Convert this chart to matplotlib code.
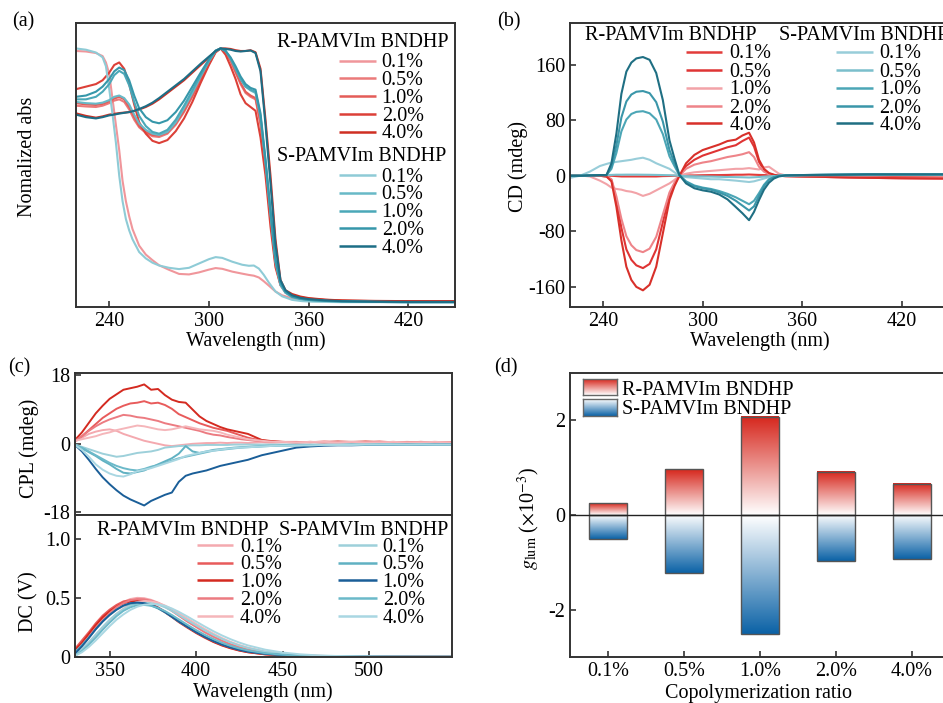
import numpy as np
import matplotlib
matplotlib.use('Agg')
import matplotlib.pyplot as plt
from matplotlib.lines import Line2D
from matplotlib.colors import LinearSegmentedColormap

FS = 14.5
plt.rcParams['font.family'] = ['Liberation Serif', 'DejaVu Serif']
plt.rcParams['mathtext.fontset'] = 'stix'
plt.rcParams['axes.unicode_minus'] = False
plt.rcParams['font.size'] = FS

# ---------------- data ----------------
ratios = ['0.1%', '0.5%', '1.0%', '2.0%', '4.0%']
R_name = 'R-PAMVIm BNDHP'
S_name = 'S-PAMVIm BNDHP'

# (a) normalized absorption
a_wl01 = [220, 226, 232, 236, 238, 240, 242, 244, 246, 248, 250, 252, 254, 258, 262, 266, 270, 276, 282, 288,
          294, 300, 304, 308, 314, 320, 324, 327, 330, 333, 336, 340, 344, 350, 356, 362, 370, 380, 395, 410, 430, 448]
a_R01 = [0.99, 0.988, 0.982, 0.97, 0.945, 0.90, 0.80, 0.70, 0.60, 0.48, 0.40, 0.34, 0.29, 0.225, 0.19, 0.168, 0.148,
         0.13, 0.114, 0.112, 0.12, 0.131, 0.137, 0.134, 0.123, 0.115, 0.11, 0.107, 0.10, 0.085, 0.068, 0.045, 0.03,
         0.018, 0.012, 0.009, 0.007, 0.006, 0.005, 0.004, 0.004, 0.004]
a_S01 = [1.0, 0.995, 0.984, 0.965, 0.93, 0.84, 0.74, 0.63, 0.50, 0.40, 0.33, 0.285, 0.25, 0.20, 0.175, 0.158, 0.147,
         0.138, 0.133, 0.138, 0.155, 0.172, 0.18, 0.177, 0.162, 0.15, 0.146, 0.147, 0.135, 0.11, 0.08, 0.045, 0.026,
         0.012, 0.007, 0.005, 0.004, 0.003, 0.003, 0.003, 0.003, 0.003]
a_wl = [220, 226, 232, 236, 240, 243, 246, 249, 252, 255, 258, 262, 266, 270, 275, 280, 285, 290, 295, 300, 304,
        307, 310, 313, 316, 319, 322, 325, 328, 331, 334, 337, 340, 343, 346, 350, 355, 360, 370, 380, 400, 420, 448]
a_R05 = [0.775, 0.772, 0.77, 0.775, 0.785, 0.795, 0.80, 0.79, 0.76, 0.72, 0.69, 0.668, 0.655, 0.652, 0.665, 0.70,
         0.75, 0.81, 0.875, 0.94, 0.985, 1.0, 0.985, 0.95, 0.905, 0.86, 0.825, 0.81, 0.80, 0.70, 0.53, 0.33, 0.15,
         0.07, 0.04, 0.025, 0.018, 0.014, 0.01, 0.008, 0.006, 0.005, 0.005]
a_R10 = [0.785, 0.78, 0.778, 0.782, 0.792, 0.803, 0.81, 0.80, 0.77, 0.73, 0.695, 0.672, 0.66, 0.658, 0.67, 0.705,
         0.755, 0.815, 0.88, 0.945, 0.988, 1.0, 0.988, 0.955, 0.91, 0.865, 0.83, 0.815, 0.805, 0.71, 0.54, 0.34, 0.16,
         0.075, 0.042, 0.027, 0.019, 0.015, 0.011, 0.008, 0.006, 0.005, 0.005]
a_R20 = [0.84, 0.85, 0.86, 0.875, 0.905, 0.935, 0.945, 0.92, 0.86, 0.78, 0.71, 0.665, 0.637, 0.628, 0.64, 0.675,
         0.725, 0.79, 0.865, 0.935, 0.985, 1.0, 0.975, 0.93, 0.88, 0.82, 0.785, 0.77, 0.755, 0.65, 0.50, 0.30, 0.14,
         0.07, 0.045, 0.03, 0.022, 0.017, 0.012, 0.009, 0.007, 0.006, 0.006]
a_R40 = [0.745, 0.735, 0.728, 0.733, 0.74, 0.743, 0.746, 0.748, 0.75, 0.754, 0.76, 0.77, 0.783, 0.80, 0.825, 0.85,
         0.875, 0.905, 0.935, 0.965, 0.99, 1.0, 1.0, 0.998, 0.993, 0.99, 0.99, 0.993, 0.985, 0.92, 0.72, 0.50, 0.25,
         0.09, 0.05, 0.035, 0.025, 0.019, 0.013, 0.01, 0.008, 0.007, 0.007]
a_S05 = [0.79, 0.785, 0.783, 0.787, 0.797, 0.81, 0.815, 0.805, 0.78, 0.74, 0.705, 0.68, 0.665, 0.66, 0.672, 0.71,
         0.765, 0.825, 0.89, 0.95, 0.99, 1.0, 0.99, 0.96, 0.92, 0.88, 0.85, 0.835, 0.825, 0.73, 0.55, 0.35, 0.16,
         0.07, 0.04, 0.022, 0.015, 0.011, 0.008, 0.006, 0.004, 0.003, 0.003]
a_S10 = [0.80, 0.80, 0.81, 0.83, 0.86, 0.895, 0.912, 0.90, 0.855, 0.79, 0.735, 0.695, 0.672, 0.665, 0.68, 0.72,
         0.775, 0.835, 0.895, 0.952, 0.99, 1.0, 0.99, 0.96, 0.92, 0.88, 0.85, 0.838, 0.83, 0.735, 0.555, 0.355, 0.165,
         0.075, 0.042, 0.024, 0.016, 0.012, 0.008, 0.006, 0.004, 0.003, 0.003]
a_S20 = [0.81, 0.815, 0.83, 0.85, 0.88, 0.91, 0.925, 0.915, 0.875, 0.815, 0.765, 0.73, 0.712, 0.706, 0.718, 0.75,
         0.795, 0.85, 0.905, 0.958, 0.992, 1.0, 0.99, 0.965, 0.93, 0.89, 0.86, 0.845, 0.838, 0.745, 0.565, 0.365, 0.17,
         0.08, 0.044, 0.025, 0.017, 0.012, 0.008, 0.006, 0.004, 0.003, 0.003]
a_S40 = [0.74, 0.73, 0.725, 0.73, 0.737, 0.74, 0.744, 0.747, 0.75, 0.755, 0.762, 0.773, 0.787, 0.805, 0.83, 0.855,
         0.88, 0.91, 0.94, 0.968, 0.99, 1.0, 0.998, 0.995, 0.99, 0.988, 0.99, 0.992, 0.982, 0.91, 0.70, 0.47, 0.23,
         0.09, 0.05, 0.03, 0.02, 0.015, 0.01, 0.007, 0.005, 0.004, 0.004]

# (b) CD spectra
b_wl = [220, 226, 232, 238, 242, 245, 248, 251, 254, 257, 260, 264, 268, 272, 276, 280, 283, 286, 290, 295, 300, 305,
        310, 315, 320, 324, 328, 331, 334, 337, 340, 343, 346, 350, 360, 380, 400, 420, 448]
b_R01 = [0.5, 0.5, 0.3, 0.3, 0.2, 0, -0.5, -1, -1, -1, -1, -1, -1, -1, -0.5, -0.3, 0, 0, 0.5, 0.5, 0.8, 1, 1, 1.2,
         1.5, 1.5, 1.8, 1.5, 1.2, 1, 0.8, 0.5, 0.3, 0, -0.5, -1, -1.5, -2, -2.5]
b_R05 = [0, 0, 0, 0, -1, -6, -36, -75, -106, -121, -129, -133, -127, -106, -67, -28, -12, 0, 14, 23, 29, 33, 37, 41,
         44, 50, 55, 42, 20, 8, 3, 1, 0, -0.5, -1, -2, -3, -3.5, -4]
b_R10 = [0, 0.5, -1, -7, -12, -17, -19, -20, -22, -23, -25, -29, -26, -21, -16, -11, -6, 0, 3, 5, 6, 7, 8, 9, 10,
         10, 11, 10, 9, 12, 13, 8, 3, 0.5, -0.5, -1.5, -2.5, -3, -3.5]
b_R20 = [0, 0, 0, 0, -1, -5, -30, -62, -87, -100, -107, -110, -105, -88, -56, -24, -10, 0, 10, 16, 19, 21, 24, 27,
         29, 31, 34, 27, 13, 6, 2, 1, 0, -0.5, -1, -2, -3, -3.5, -4]
b_R40 = [0, 0, 0, 0, -1, -8, -45, -93, -131, -150, -160, -165, -157, -131, -83, -35, -15, 0, 18, 30, 37, 41, 45, 50,
         52, 58, 62, 48, 23, 10, 4, 1.5, 0, -0.5, -1, -2, -3, -3.5, -4]
b_S01 = [-3, 0, 6, 14, 17, 19, 20, 21, 22, 23, 24.5, 26, 23, 18, 14, 10, 5, 0, -2, -3, -4, -5, -5, -6, -7, -8, -9,
         -8, -6, -4, -2, -1, 0, 0.5, 1, 1.5, 2, 2, 2]
b_S05 = [0.3, 0.3, 0.5, 0.8, 1, 1.2, 1.5, 1.5, 1.6, 1.6, 1.6, 1.5, 1.4, 1.2, 1, 0.8, 0.5, 0, -0.5, -0.8, -1, -1.2,
         -1.5, -1.8, -2, -2.2, -2.5, -2.2, -1.8, -1.2, -0.8, -0.5, 0, 0.3, 0.6, 0.8, 1, 1.2, 1.5]
b_S10 = [0, 0, 0.5, 1, 1, 10, 33, 64, 81, 89, 92, 93, 90, 81, 60, 28, 14, 1, -8, -14, -17, -19, -22, -26, -31, -36,
         -41, -36, -25, -13, -5, -2, 0, 0.5, 1, 1.5, 2, 2, 2]
b_S20 = [0, 0, 0.5, 1, 1, 13, 44, 84, 107, 117, 121, 122, 119, 106, 78, 37, 18, 1, -9, -15, -18, -20, -24, -29, -36,
         -43, -50, -44, -29, -15, -6, -2, 0, 0.5, 1, 1.5, 2, 2, 2]
b_S40 = [0, 0, 0.5, 1, 1, 18, 61, 118, 150, 163, 169, 171, 167, 148, 109, 51, 25, 1, -11, -18, -21, -23, -27, -34,
         -45, -54, -64, -52, -35, -20, -10, -4, -1, 0.5, 1, 1.5, 2, 2, 2]

# (c) CPL spectra
c_wl = [330, 334, 338, 342, 346, 350, 354, 358, 362, 366, 370, 374, 378, 382, 386, 390, 394, 398, 402, 406, 410,
        414, 418, 422, 426, 430, 434, 438, 442, 446, 450, 458, 466, 474, 482, 490, 498, 506, 514, 522, 530, 538, 548]
c_R01 = [0.6, 1.6, 2.6, 3.2, 3.6, 3.8, 3.4, 2.6, 2.0, 1.4, 0.8, 0.4, 0.0, -0.4, -0.6, -0.4, -0.2, 0.0, 0.1, 0.2, 0.2,
         0.3, 0.2, 0.3, 0.3, 0.2, 0.3, 0.4, 0.3, 0.3, 0.4, 0.3, 0.4, 0.3, 0.3, 0.4, 0.3, 0.3, 0.4, 0.3, 0.3, 0.3, 0.3]
c_R05 = [0.8, 2.0, 3.6, 5.2, 6.8, 8.0, 9.2, 10.0, 10.6, 10.8, 11.2, 10.6, 10.8, 10.2, 9.2, 7.8, 7.0, 6.2, 5.4, 4.8,
         4.2, 3.8, 3.4, 2.8, 2.2, 1.6, 1.2, 0.9, 0.7, 0.6, 0.5, 0.5, 0.4, 0.6, 0.5, 0.4, 0.5, 0.6, 0.4, 0.5, 0.4, 0.5,
         0.4]
c_R10 = [1.0, 3.0, 5.5, 8.0, 10.0, 11.8, 13.0, 14.2, 14.6, 15.0, 15.6, 14.2, 14.4, 12.8, 11.6, 11.0, 10.8, 9.0, 7.2,
         6.0, 5.2, 4.4, 3.8, 3.4, 3.0, 2.6, 1.8, 1.0, 0.8, 0.6, 0.5, 0.4, 0.5, 0.4, 0.6, 0.5, 0.6, 0.4, 0.5, 0.4, 0.5,
         0.4, 0.4]
c_R20 = [0.8, 2.0, 3.4, 4.6, 5.6, 6.4, 7.0, 7.6, 7.4, 7.0, 6.8, 6.4, 6.0, 5.4, 5.0, 4.6, 4.2, 3.8, 3.4, 2.8, 2.4,
         2.2, 1.8, 1.5, 1.2, 1.0, 0.8, 0.7, 0.6, 0.5, 0.5, 0.4, 0.5, 0.4, 0.4, 0.5, 0.4, 0.5, 0.4, 0.4, 0.5, 0.4, 0.4]
c_R40 = [0.8, 1.2, 1.6, 2.0, 2.6, 3.0, 3.6, 4.0, 4.4, 4.8, 4.6, 4.2, 3.8, 3.6, 3.8, 4.2, 4.6, 4.2, 3.8, 3.6, 3.4,
         3.0, 2.4, 2.0, 1.6, 1.2, 1.0, 0.8, 0.6, 0.5, 0.5, 0.4, 0.5, 0.5, 0.4, 0.5, 0.4, 0.4, 0.5, 0.4, 0.4, 0.5, 0.4]
c_S01 = [-0.2, -0.8, -1.4, -2.0, -2.6, -3.0, -3.4, -3.2, -2.8, -2.4, -2.2, -2.0, -1.6, -1.0, -0.8, -0.6, -0.5, -0.4,
         -0.4, -0.3, -0.3, -0.3, -0.3, -0.2, -0.2, -0.2, -0.2, -0.2, -0.2, -0.2, -0.2, -0.2, -0.2, -0.2, -0.2, -0.1,
         -0.2, -0.1, -0.1, -0.2, -0.1, -0.1, -0.1]
c_S05 = [-0.4, -1.2, -2.2, -3.2, -4.4, -5.4, -6.6, -7.6, -7.8, -7.4, -7.0, -6.2, -5.4, -4.6, -3.8, -2.6, -0.6, -2.0,
         -2.4, -2.0, -1.6, -1.4, -1.2, -1.0, -0.9, -0.8, -0.7, -0.6, -0.5, -0.5, -0.4, -0.4, -0.3, -0.3, -0.3, -0.2,
         -0.3, -0.2, -0.2, -0.2, -0.2, -0.2, -0.2]
c_S10 = [-0.3, -2.0, -4.2, -6.6, -8.8, -10.6, -12.2, -13.6, -14.6, -15.4, -16.2, -15.0, -14.2, -13.4, -12.8, -10.0,
         -8.4, -7.8, -7.4, -7.0, -6.4, -5.8, -5.4, -5.0, -4.6, -4.2, -3.6, -3.0, -2.6, -2.2, -1.8, -1.0, -0.7, -0.5,
         -0.4, -0.4, -0.3, -0.3, -0.3, -0.2, -0.3, -0.2, -0.2]
c_S20 = [-0.3, -1.0, -2.0, -3.0, -4.0, -5.0, -5.8, -6.4, -6.8, -7.0, -6.6, -6.0, -5.6, -5.0, -4.4, -3.8, -3.4, -3.0,
         -2.6, -2.2, -1.8, -1.6, -1.4, -1.2, -1.0, -0.9, -0.8, -0.7, -0.6, -0.5, -0.5, -0.4, -0.4, -0.3, -0.3, -0.3,
         -0.2, -0.2, -0.2, -0.2, -0.2, -0.2, -0.2]
c_S40 = [-0.3, -1.6, -3.4, -5.4, -6.8, -7.8, -8.4, -8.6, -8.0, -7.2, -6.8, -6.4, -5.8, -5.2, -4.6, -4.0, -3.2, -2.8,
         -2.4, -2.0, -1.8, -1.5, -1.3, -1.1, -1.0, -0.9, -0.8, -0.7, -0.6, -0.5, -0.5, -0.4, -0.4, -0.3, -0.3, -0.3,
         -0.2, -0.2, -0.2, -0.2, -0.2, -0.2, -0.2]

# (c) DC spectra
dc_wl = [330, 334, 338, 342, 346, 350, 354, 358, 362, 366, 370, 374, 378, 382, 386, 390, 395, 400, 405, 410, 415,
         420, 425, 430, 440, 450, 460, 470, 480, 495, 510, 530, 548]
dc_R01 = [0.05, 0.11, 0.18, 0.255, 0.32, 0.38, 0.43, 0.465, 0.49, 0.50, 0.497, 0.483, 0.46, 0.43, 0.39, 0.35, 0.30,
          0.255, 0.21, 0.17, 0.135, 0.105, 0.08, 0.062, 0.036, 0.021, 0.013, 0.009, 0.006, 0.004, 0.003, 0.002, 0.002]
dc_R05 = [0.07, 0.14, 0.21, 0.285, 0.35, 0.40, 0.44, 0.47, 0.48, 0.48, 0.47, 0.45, 0.42, 0.385, 0.345, 0.30, 0.255,
          0.21, 0.17, 0.13, 0.10, 0.076, 0.056, 0.041, 0.023, 0.013, 0.008, 0.005, 0.004, 0.003, 0.002, 0.002, 0.002]
dc_R10 = [0.06, 0.12, 0.195, 0.27, 0.335, 0.385, 0.425, 0.455, 0.468, 0.47, 0.462, 0.443, 0.415, 0.378, 0.338, 0.295,
          0.248, 0.203, 0.163, 0.127, 0.097, 0.073, 0.054, 0.04, 0.022, 0.013, 0.008, 0.005, 0.004, 0.003, 0.002,
          0.002, 0.002]
dc_R20 = [0.04, 0.10, 0.17, 0.245, 0.31, 0.37, 0.42, 0.455, 0.48, 0.49, 0.488, 0.476, 0.455, 0.425, 0.39, 0.35, 0.30,
          0.255, 0.21, 0.172, 0.138, 0.108, 0.084, 0.065, 0.038, 0.022, 0.014, 0.009, 0.006, 0.004, 0.003, 0.002,
          0.002]
dc_R40 = [0.02, 0.06, 0.12, 0.185, 0.25, 0.31, 0.365, 0.41, 0.445, 0.465, 0.472, 0.47, 0.458, 0.435, 0.405, 0.37,
          0.325, 0.28, 0.237, 0.197, 0.16, 0.128, 0.101, 0.079, 0.047, 0.028, 0.017, 0.011, 0.007, 0.005, 0.003,
          0.002, 0.002]
dc_S01 = [0.02, 0.065, 0.125, 0.19, 0.255, 0.315, 0.365, 0.405, 0.435, 0.452, 0.458, 0.455, 0.442, 0.42, 0.39,
          0.355, 0.31, 0.268, 0.226, 0.188, 0.153, 0.123, 0.097, 0.076, 0.045, 0.027, 0.016, 0.01, 0.007, 0.004,
          0.003, 0.002, 0.002]
dc_S05 = [0.04, 0.10, 0.165, 0.235, 0.30, 0.355, 0.40, 0.432, 0.45, 0.455, 0.45, 0.435, 0.41, 0.378, 0.34, 0.30,
          0.255, 0.212, 0.172, 0.137, 0.107, 0.082, 0.062, 0.047, 0.027, 0.016, 0.01, 0.006, 0.004, 0.003, 0.002,
          0.002, 0.002]
dc_S10 = [0.03, 0.09, 0.16, 0.235, 0.30, 0.355, 0.40, 0.435, 0.455, 0.46, 0.455, 0.44, 0.415, 0.38, 0.34, 0.30,
          0.255, 0.21, 0.17, 0.135, 0.105, 0.08, 0.06, 0.045, 0.027, 0.016, 0.01, 0.007, 0.005, 0.004, 0.003, 0.002,
          0.002]
dc_S20 = [0.01, 0.05, 0.105, 0.165, 0.23, 0.29, 0.345, 0.39, 0.42, 0.437, 0.44, 0.433, 0.415, 0.388, 0.355, 0.318,
          0.272, 0.228, 0.188, 0.152, 0.12, 0.094, 0.072, 0.055, 0.032, 0.019, 0.011, 0.007, 0.005, 0.003, 0.002,
          0.002, 0.002]
dc_S40 = [0.01, 0.04, 0.085, 0.14, 0.20, 0.26, 0.315, 0.36, 0.398, 0.425, 0.442, 0.448, 0.445, 0.432, 0.41, 0.382,
          0.342, 0.30, 0.258, 0.218, 0.182, 0.15, 0.122, 0.098, 0.062, 0.038, 0.023, 0.014, 0.009, 0.005, 0.003,
          0.002, 0.002]

# (d) g_lum (x10^-3)
R_glum = [0.25, 0.97, 2.08, 0.91, 0.66]
S_glum = [-0.50, -1.23, -2.51, -0.98, -0.93]

# colours
a_col_R = ['#f0969b', '#eb7a7a', '#e45c58', '#dc4038', '#cf2f22']
a_col_S = ['#8ecbd6', '#68b9c7', '#4aa8b8', '#3697aa', '#1d6e86']
b_col_R = ['#e23c3a', '#df3434', '#f2a3a8', '#ee8489', '#d8302a']
b_col_S = ['#98cdd9', '#7bbfcc', '#4ca6b6', '#3a96a9', '#1f6f83']
c_col_R = ['#f4a9af', '#e85b5b', '#d42a20', '#ec7b81', '#f5b6ba']
c_col_S = ['#9dd0da', '#60b1c2', '#1a5e98', '#6bb9c9', '#a9d7e2']

# ---------------- figure ----------------
W, H = 943, 703
fig = plt.figure(figsize=(W / 100, H / 100), dpi=100)
SP = '#333333'


def ax_px(l, t, r, b):
    return fig.add_axes([l / W, 1 - b / H, (r - l) / W, (b - t) / H])


def style(ax):
    for s in ax.spines.values():
        s.set_color(SP)
        s.set_linewidth(1.4)
    ax.tick_params(direction='in', length=4, width=1.2, color=SP, labelsize=FS, pad=3.5,
                   top=False, right=False)


def ylab(ax, s, x, y):
    ax.set_ylabel(s, fontsize=FS)
    ax.yaxis.set_label_coords(x, y)
    ax.yaxis.label.set_verticalalignment('center')


def xlab(ax, s, x, y):
    ax.set_xlabel(s, fontsize=FS)
    ax.xaxis.set_label_coords(x, y)
    ax.xaxis.label.set_verticalalignment('center')


def ftext(x, y, s, ha='left'):
    fig.text(x / W, 1 - (y + 6.6) / H, s, ha=ha, va='baseline', fontsize=FS)


def fkey(x0, x1, y, color, lw=1.8):
    fig.add_artist(Line2D([x0 / W, x1 / W], [1 - y / H, 1 - y / H], transform=fig.transFigure,
                          color=color, lw=lw, solid_capstyle='butt'))


def key_block(hx, hy, name, lx0, lx1, tx, rows, colors):
    ftext(hx, hy, name)
    for yy, c, lab in zip(rows, colors, ratios):
        fkey(lx0, lx1, yy, c)
        ftext(tx, yy, lab)


# ---- (a) ----
axa = ax_px(76, 23, 455, 307)
style(axa)
a_R = [a_R01, a_R05, a_R10, a_R20, a_R40]
a_S = [a_S01, a_S05, a_S10, a_S20, a_S40]
for i in range(5):
    xw = a_wl01 if i == 0 else a_wl
    axa.plot(xw, a_R[i], color=a_col_R[i], lw=1.5)
for i in range(5):
    xw = a_wl01 if i == 0 else a_wl
    axa.plot(xw, a_S[i], color=a_col_S[i], lw=1.5)
axa.set_xlim(220, 448)
axa.set_ylim(-0.016, 1.10)
axa.set_xticks([240, 300, 360, 420])
axa.set_yticks([])
ylab(axa, 'Nomalized abs', -0.128, 0.528)
xlab(axa, 'Wavelength (nm)', 0.475, -0.12)
key_block(276.7, 40.7, R_name, 339, 376, 381.7, [60.7, 78.3, 96, 114, 131.7], a_col_R)
key_block(276.7, 154, S_name, 339, 376, 381.7, [175, 192.7, 210.7, 228.3, 246], a_col_S)

# ---- (b) ----
axb = ax_px(570, 23, 948, 307)
style(axb)
b_R = [b_R01, b_R05, b_R10, b_R20, b_R40]
b_S = [b_S01, b_S05, b_S10, b_S20, b_S40]
for i in range(5):
    axb.plot(b_wl, b_R[i], color=b_col_R[i], lw=1.5)
for i in range(5):
    axb.plot(b_wl, b_S[i], color=b_col_S[i], lw=1.5)
axb.set_xlim(220, 448)
axb.set_ylim(-189, 220)
axb.set_xticks([240, 300, 360, 420])
axb.set_yticks([-160, -80, 0, 80, 160])
ylab(axb, 'CD (mdeg)', -0.1376, 0.496)
xlab(axb, 'Wavelength (nm)', 0.503, -0.12)
key_block(585, 33.3, R_name, 686, 722.3, 729.3, [51.7, 70, 87.7, 106, 123.3], b_col_R)
ftext(779.3, 33.3, S_name)
for yy, c, lab in zip([51.7, 70, 87.7, 106, 123.3], b_col_S, ratios):
    fkey(836, 872.7, yy, c)
    ftext(879.3, yy, lab)

# ---- (c) CPL ----
axc1 = ax_px(75, 373, 452, 515)
style(axc1)
c_R = [c_R01, c_R05, c_R10, c_R20, c_R40]
c_S = [c_S01, c_S05, c_S10, c_S20, c_S40]
for i in range(5):
    axc1.plot(c_wl, c_R[i], color=c_col_R[i], lw=1.4)
for i in range(5):
    axc1.plot(c_wl, c_S[i], color=c_col_S[i], lw=1.4)
axc1.set_xlim(330, 548)
axc1.set_ylim(-18.7, 18.6)
axc1.set_yticks([-18, 0, 18])
axc1.tick_params(bottom=False, labelbottom=False)
ylab(axc1, 'CPL (mdeg)', -0.122, 0.472)

# ---- (c) DC ----
axc2 = ax_px(75, 515, 452, 657)
style(axc2)
dc_R = [dc_R01, dc_R05, dc_R10, dc_R20, dc_R40]
dc_S = [dc_S01, dc_S05, dc_S10, dc_S20, dc_S40]
for i in range(5):
    axc2.plot(dc_wl, dc_R[i], color=c_col_R[i], lw=1.4)
for i in range(5):
    axc2.plot(dc_wl, dc_S[i], color=c_col_S[i], lw=1.4)
axc2.set_xlim(330, 548)
axc2.set_ylim(0, 1.2)
axc2.set_yticks([0, 0.5, 1.0])
axc2.set_yticklabels(['0', '0.5', '1.0'])
axc2.set_xticks([350, 400, 450, 500])
ylab(axc2, 'DC (V)', -0.122, 0.39)
xlab(axc2, 'Wavelength (nm)', 0.499, -0.244)
key_block(96.7, 528.3, R_name, 196.7, 232.7, 240, [545, 562.7, 580, 598.3, 616], c_col_R)
ftext(279.3, 528.3, S_name)
for yy, c, lab in zip([545, 562.7, 580, 598.3, 616], c_col_S, ratios):
    fkey(338.3, 376.7, yy, c)
    ftext(382.7, yy, lab)

# ---- (d) ----
axd = ax_px(570, 373, 950, 657)
style(axd)
cmap_r = LinearSegmentedColormap.from_list('rgrad', ['#ffffff', '#d6261c'])
cmap_s = LinearSegmentedColormap.from_list('sgrad', ['#ffffff', '#0b62a6'])
grad = np.linspace(0, 1, 256).reshape(-1, 1)
bw = 0.5
xpos = np.arange(len(ratios))
for x, r, s in zip(xpos, R_glum, S_glum):
    axd.imshow(grad, extent=[x - bw / 2, x + bw / 2, 0, r], origin='lower', cmap=cmap_r,
               aspect='auto', zorder=2, interpolation='bilinear')
    axd.imshow(grad[::-1], extent=[x - bw / 2, x + bw / 2, s, 0], origin='lower', cmap=cmap_s,
               aspect='auto', zorder=2, interpolation='bilinear')
axd.bar(xpos, R_glum, width=bw, fill=False, edgecolor='#555555', lw=1.0, zorder=3)
axd.bar(xpos, S_glum, width=bw, fill=False, edgecolor='#555555', lw=1.0, zorder=3)
axd.axhline(0, color='#222222', lw=1.0, zorder=4)
axd.set_xlim(-0.5, 4.5)
axd.set_ylim(-3, 3)
axd.set_xticks(xpos)
axd.set_xticklabels(ratios)
axd.set_yticks([-2, 0, 2])
ylab(axd, r'$g_{\mathrm{lum}}$ ($\times$10$^{-3}$)', -0.108, 0.489)
xlab(axd, 'Copolymerization ratio', 0.497, -0.127)
for (t, b), cm, g in [((379.3, 395), cmap_r, grad), ((399, 415.7), cmap_s, grad[::-1])]:
    lax = ax_px(582.7, t, 616.7, b)
    lax.imshow(g, origin='lower', cmap=cm, aspect='auto', extent=[0, 1, 0, 1])
    lax.set_xticks([])
    lax.set_yticks([])
    for sp in lax.spines.values():
        sp.set_color('#666666')
        sp.set_linewidth(1.0)
ftext(621.7, 388, R_name)
ftext(621.7, 407.5, S_name)

# panel labels
ftext(12, 20, '(a)')
ftext(496.7, 20, '(b)')
ftext(8.3, 366, '(c)')
ftext(494, 366, '(d)')

fig.savefig('out.png', dpi=100)
